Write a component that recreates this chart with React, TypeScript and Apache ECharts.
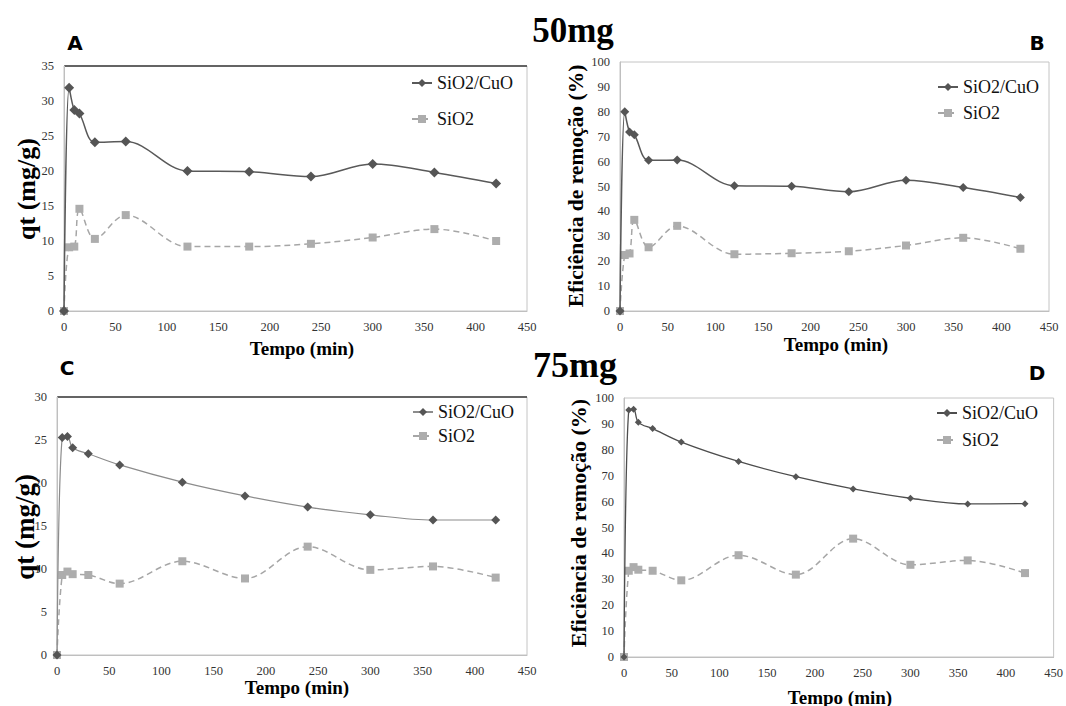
import React, { useEffect, useRef } from "react";
import * as echarts from "echarts";

const times = [0, 5, 10, 15, 30, 60, 120, 180, 240, 300, 360, 420];

// Panel A – 50 mg, qt (mg/g)
const aCuO = [0, 31.9, 28.7, 28.2, 24.1, 24.2, 20.0, 19.9, 19.2, 21.0, 19.8, 18.2];
const aSiO2 = [0, 9.1, 9.2, 14.6, 10.3, 13.7, 9.2, 9.2, 9.6, 10.5, 11.7, 10.0];
// Panel B – 50 mg, removal efficiency (%)
const bCuO = [0, 80.0, 71.9, 70.8, 60.5, 60.6, 50.3, 50.1, 47.9, 52.5, 49.6, 45.6];
const bSiO2 = [0, 22.5, 23.1, 36.6, 25.6, 34.2, 22.8, 23.2, 24.0, 26.3, 29.4, 25.0];
// Panel C – 75 mg, qt (mg/g)
const cCuO = [0, 25.3, 25.4, 24.1, 23.4, 22.1, 20.1, 18.5, 17.2, 16.3, 15.7, 15.7];
const cSiO2 = [0, 9.3, 9.7, 9.4, 9.3, 8.3, 10.9, 8.9, 12.6, 9.9, 10.3, 9.0];
// Panel D – 75 mg, removal efficiency (%)
const dCuO = [0, 95.4, 95.7, 90.6, 88.2, 83.0, 75.5, 69.6, 64.9, 61.3, 59.1, 59.2];
const dSiO2 = [0, 33.3, 34.7, 33.7, 33.3, 29.6, 39.3, 31.8, 45.7, 35.6, 37.3, 32.4];

const seriesNames = ["SiO2/CuO", "SiO2"];
const pair = (ys: number[]) => times.map((t, i) => [t, ys[i]]);
const SERIF = "Liberation Serif";

export default function App() {
  const ref = useRef<HTMLDivElement>(null);
  useEffect(() => {
    if (!ref.current) return;
    const chart = echarts.init(ref.current, null, { renderer: "svg" });
    const panels = [
      { key: "A", grid: { left: 64, top: 66, width: 463, height: 245 }, ymax: 35, yint: 5, cuo: aCuO, sio: aSiO2, dia: 10, sq: 8, cuoLine: "#595959", cuoW: 1.5, legend: { left: 406, top: 68, gap: 16 } },
      { key: "B", grid: { left: 620, top: 62, width: 429, height: 249 }, ymax: 100, yint: 10, cuo: bCuO, sio: bSiO2, dia: 9, sq: 8, cuoLine: "#595959", cuoW: 1.5, legend: { left: 932, top: 72, gap: 6 } },
      { key: "C", grid: { left: 57, top: 397, width: 470, height: 258 }, ymax: 30, yint: 5, cuo: cCuO, sio: cSiO2, dia: 9, sq: 8, cuoLine: "#8c8c8c", cuoW: 1.2, legend: { left: 407, top: 397, gap: 4 } },
      { key: "D", grid: { left: 624, top: 398, width: 430, height: 259 }, ymax: 100, yint: 10, cuo: dCuO, sio: dSiO2, dia: 7, sq: 8, cuoLine: "#4d4d4d", cuoW: 1.3, legend: { left: 931, top: 398, gap: 7 } },
    ];
    const grid: any[] = [], xAxis: any[] = [], yAxis: any[] = [], series: any[] = [], legend: any[] = [];
    panels.forEach((p, i) => {
      grid.push({ ...p.grid, show: true, borderColor: "#c4c4c4", borderWidth: 1 });
      xAxis.push({
        type: "value", gridIndex: i, min: 0, max: 450, interval: 50,
        axisLine: { lineStyle: { color: "#bfbfbf" } }, axisTick: { show: false }, splitLine: { show: false },
        axisLabel: { fontFamily: SERIF, fontSize: 12.5, color: "#333", margin: 9 },
      });
      yAxis.push({
        type: "value", gridIndex: i, min: 0, max: p.ymax, interval: p.yint,
        axisLine: { show: true, lineStyle: { color: "#bfbfbf" } }, axisTick: { show: false }, splitLine: { show: false },
        axisLabel: { fontFamily: SERIF, fontSize: 12.5, color: "#333", margin: 10 },
      });
      const n1 = p.key + ":" + seriesNames[0];
      const n2 = p.key + ":" + seriesNames[1];
      series.push({ name: n1, type: "line", xAxisIndex: i, yAxisIndex: i, data: pair(p.cuo), smooth: 0.35, symbol: "diamond", symbolSize: p.dia, lineStyle: { color: p.cuoLine, width: p.cuoW }, itemStyle: { color: "#555555" }, z: 3 });
      series.push({ name: n2, type: "line", xAxisIndex: i, yAxisIndex: i, data: pair(p.sio), smooth: 0.35, symbol: "rect", symbolSize: p.sq, lineStyle: { color: "#a6a6a6", width: 1.5, type: [6, 4] }, itemStyle: { color: "#adadad" }, z: 2 });
      legend.push({
        data: [n1, n2], orient: "vertical", left: p.legend.left, top: p.legend.top,
        itemGap: p.legend.gap, itemWidth: 20, itemHeight: 10,
        formatter: (name: string) => name.split(":")[1],
        textStyle: { fontFamily: SERIF, fontSize: 18, color: "#111", lineHeight: 20 },
        selectedMode: false,
      });
    });
    const axisTitle = (text: string, x: number, y: number, size: number, vertical = false) => ({ type: "text", x, y, rotation: vertical ? Math.PI / 2 : 0, style: { text, fontFamily: SERIF, fontWeight: "bold", fontSize: size, fill: "#000", textAlign: "center", textVerticalAlign: "middle" } });
    const letter = (text: string, x: number, y: number) => ({ type: "text", x, y, style: { text, fontFamily: "DejaVu Sans", fontWeight: "bold", fontSize: 20, fill: "#000", textAlign: "center", textVerticalAlign: "middle" } });
    const graphic: any[] = [
      { type: "line", shape: { x1: 64, y1: 66, x2: 527, y2: 66 }, style: { stroke: "#3a3a3a", lineWidth: 1.5 } },
      { type: "line", shape: { x1: 57, y1: 397, x2: 527, y2: 397 }, style: { stroke: "#3a3a3a", lineWidth: 1.5 } },
      axisTitle("50mg", 573, 30, 35), axisTitle("75mg", 575, 365, 36),
      letter("A", 75, 43), letter("B", 1037, 43), letter("C", 67, 368), letter("D", 1037, 373),
      axisTitle("Tempo (min)", 302, 348, 19), axisTitle("Tempo (min)", 836, 344, 19), axisTitle("Tempo (min)", 297, 687, 19), axisTitle("Tempo (min)", 840, 697, 19),
      axisTitle("qt (mg/g)", 26, 189, 26, true), axisTitle("Eficiência de remoção (%)", 576, 186, 21.5, true),
      axisTitle("qt (mg/g)", 25, 527, 27, true), axisTitle("Eficiência de remoção (%)", 578, 523, 22, true),
    ];
    chart.setOption({ animation: false, backgroundColor: "#fff", grid, xAxis, yAxis, series, legend, graphic });
    return () => chart.dispose();
  }, []);
  return <div ref={ref} style={{ position: "absolute", left: 0, top: 0, width: 1066, height: 706, background: "#fff" }} />;
}
